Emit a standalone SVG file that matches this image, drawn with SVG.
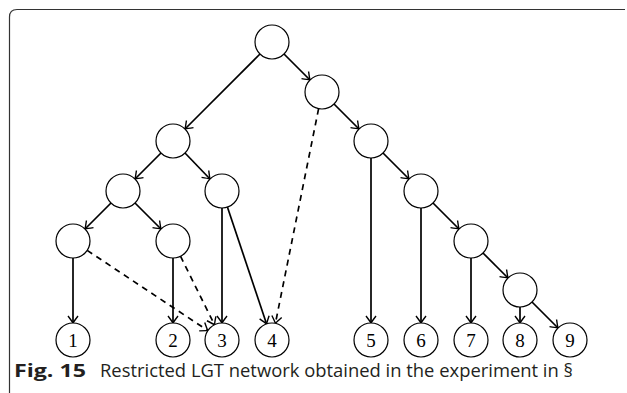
<svg xmlns="http://www.w3.org/2000/svg" width="627" height="393" viewBox="0 0 627 393">
<defs>
<style>
.n{fill:#fff;stroke:#000;stroke-width:1.2}
.e{fill:none;stroke:#000;stroke-width:1.7}
.d{stroke-dasharray:6 5}
.lbl{font-family:"Liberation Serif","DejaVu Serif",serif;font-size:19px;text-anchor:middle}
.cap{font-family:"Open Sans","Noto Sans",sans-serif;font-size:17.5px;fill:#231f20}
</style>
<marker id="ah" viewBox="-10 -7 12 14" refX="0" refY="0" markerWidth="12" markerHeight="14" orient="auto" markerUnits="userSpaceOnUse">
<path d="M-7,-5 Q-2,-1.2 0,0 Q-2,1.2 -7,5" fill="none" stroke="#000" stroke-width="1.4"/>
</marker>
</defs>
<rect width="627" height="393" fill="#fff"/>
<path d="M9.5 393 V17 Q9.5 9.5 17 9.5 H625" fill="none" stroke="#333" stroke-width="1.2"/>
<g id="connectors" marker-end="url(#ah)">
<path class="e" d="M260 54 L185 129"/>
<path class="e" d="M284 54 L310 80"/>
<path class="e" d="M334 104 L359 129"/>
<path class="e d" d="M318.6 108.7 L275.4 323.3"/>
<path class="e" d="M161 153 L135 179"/>
<path class="e" d="M185 153 L210 179"/>
<path class="e" d="M371 158 L371 323"/>
<path class="e" d="M383 153 L409 179"/>
<path class="e" d="M111 203 L85 229"/>
<path class="e" d="M135 203 L161 229"/>
<path class="e" d="M222 208 L222 323"/>
<path class="e" d="M227.4 207.1 L266.6 323.9"/>
<path class="e" d="M421 208 L421 323"/>
<path class="e" d="M433 203 L459 229"/>
<path class="e" d="M73 258 L73 323"/>
<path class="e d" d="M87.2 250.4 L207.8 330.6"/>
<path class="e" d="M173 258 L173 323"/>
<path class="e d" d="M180.5 256.2 L214.5 324.8"/>
<path class="e" d="M471 258 L471 323"/>
<path class="e" d="M483 253 L508 278"/>
<path class="e" d="M520 307 L520 323"/>
<path class="e" d="M532 302 L558 328"/>
</g>
<g id="root"><circle class="n" cx="272" cy="42" r="17"/></g>
<g id="nA"><circle class="n" cx="322" cy="92" r="17"/></g>
<g id="nB"><circle class="n" cx="173" cy="141" r="17"/></g>
<g id="nC"><circle class="n" cx="371" cy="141" r="17"/></g>
<g id="nD"><circle class="n" cx="123" cy="191" r="17"/></g>
<g id="nE"><circle class="n" cx="222" cy="191" r="17"/></g>
<g id="nF"><circle class="n" cx="421" cy="191" r="17"/></g>
<g id="nG"><circle class="n" cx="73" cy="241" r="17"/></g>
<g id="nH"><circle class="n" cx="173" cy="241" r="17"/></g>
<g id="nI"><circle class="n" cx="471" cy="241" r="17"/></g>
<g id="nJ"><circle class="n" cx="520" cy="290" r="17"/></g>
<g id="leaf1"><circle class="n" cx="73" cy="340" r="17"/><text class="lbl" x="73" y="346.5">1</text></g>
<g id="leaf2"><circle class="n" cx="173" cy="340" r="17"/><text class="lbl" x="173" y="346.5">2</text></g>
<g id="leaf3"><circle class="n" cx="222" cy="340" r="17"/><text class="lbl" x="222" y="346.5">3</text></g>
<g id="leaf4"><circle class="n" cx="272" cy="340" r="17"/><text class="lbl" x="272" y="346.5">4</text></g>
<g id="leaf5"><circle class="n" cx="371" cy="340" r="17"/><text class="lbl" x="371" y="346.5">5</text></g>
<g id="leaf6"><circle class="n" cx="421" cy="340" r="17"/><text class="lbl" x="421" y="346.5">6</text></g>
<g id="leaf7"><circle class="n" cx="471" cy="340" r="17"/><text class="lbl" x="471" y="346.5">7</text></g>
<g id="leaf8"><circle class="n" cx="520" cy="340" r="17"/><text class="lbl" x="520" y="346.5">8</text></g>
<g id="leaf9"><circle class="n" cx="570" cy="340" r="17"/><text class="lbl" x="570" y="346.5">9</text></g>
<g id="caption">
<text class="cap" x="14" y="377" font-weight="bold" textLength="72" lengthAdjust="spacingAndGlyphs">Fig. 15</text>
<text class="cap" x="100" y="377" textLength="473" lengthAdjust="spacingAndGlyphs">Restricted LGT network obtained in the experiment in §</text>
</g>
</svg>
